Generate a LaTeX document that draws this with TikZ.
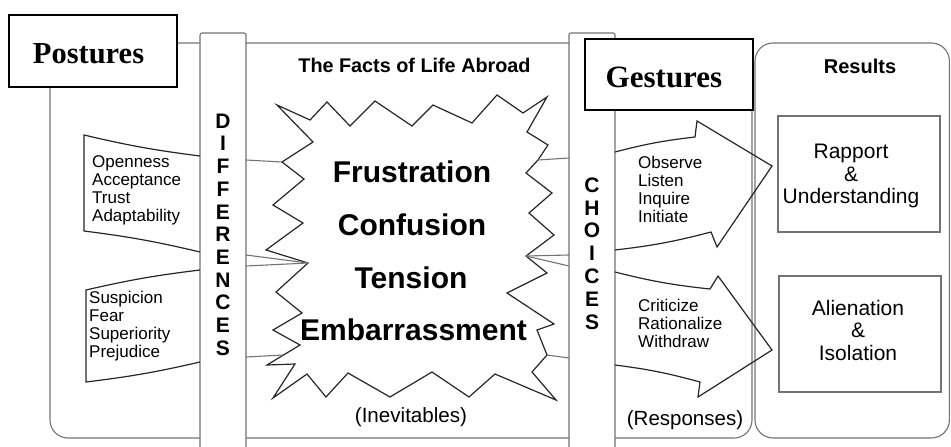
\documentclass[tikz,border=0pt]{standalone}
\usepackage{fontspec}
\setmainfont{Liberation Sans}
\newfontfamily\headfont{Liberation Serif}
\usetikzlibrary{calc}
\pgfdeclarelayer{bg}
\pgfsetlayers{bg,main}

\begin{document}
\begin{tikzpicture}[x=1pt, y=-1pt,
  greyline/.style={draw=black!55, line width=1.1pt},
  inkline/.style={draw=black!85, line width=1.2pt, line join=miter},
  colbox/.style={greyline, fill=white, rounded corners=2pt},
  hdrbox/.style={draw=black, line width=1.6pt, fill=white},
  listtxt/.style={align=left, anchor=west, inner sep=0pt, font=\fontsize{17}{18}\selectfont},
  bigword/.style={anchor=base, inner sep=0pt, font=\fontsize{30}{30}\bfseries\selectfont},
  colletter/.style={inner sep=0pt, font=\fontsize{21}{21}\bfseries\selectfont},
  restxt/.style={align=center, inner sep=0pt, font=\fontsize{21}{22.5}\selectfont}]
\useasboundingbox (0,0) rectangle (951,447);
\begin{scope}
\begin{pgfonlayer}{bg}
  \draw[greyline, rounded corners=18pt] (50,43) rectangle (752,438); %postures to responses
  \draw[greyline, rounded corners=18pt] (755,43) rectangle (949.4,438); %results
\end{pgfonlayer}
  % the two columns
  \draw[colbox] (200,447) -- (200,33) -- (246,33) -- (246,447);
  \draw[colbox] (569,447) -- (569,33) -- (615,33) -- (615,447);
  \foreach \l [count=\i] in {D,I,F,F,E,R,E,N,C,E,S}
    \node[colletter] (dif\i) at (223, 98.3+22.7*\i) {\l};
  \foreach \l [count=\i] in {C,H,O,I,C,E,S}
    \node[colletter] (cho\i) at (592, 162.2+22.8*\i) {\l};
  \coordinate (dR1) at (246,160);
  \coordinate (dR2) at (246,255);
  \coordinate (dR3) at (246,266);
  \coordinate (dR4) at (246,357);
  \coordinate (cL1) at (569,158);
  \coordinate (cL2) at (569,255);
  \coordinate (cL3) at (569,266);
  \coordinate (cL4) at (569,358);
  % header boxes
  \node[hdrbox, minimum width=168, minimum height=72, inner sep=0pt] (postbox) at (93,51) {};
  \node[anchor=base, inner sep=0pt, font=\headfont\fontsize{30.5}{30}\bfseries\selectfont] (post) at (88.5,63) {Postures};
  \node[hdrbox, minimum width=168, minimum height=71, inner sep=0pt] (gestbox) at (669,74.5) {};
  \node[anchor=base, inner sep=0pt, font=\headfont\fontsize{31}{30}\bfseries\selectfont] (gest) at (664,87.5) {Gestures};
  % facts of life
  \node[anchor=base, inner sep=0pt, font=\fontsize{19.8}{20}\bfseries\selectfont] (facts) at (414.5,72) {The Facts of Life Abroad};
  \draw[inkline, fill=white]
    (277,105) -- (313,142) -- (282,162) coordinate (sL1) -- (304,179) -- (273,205) -- (303,223)
    -- (266,250) -- (308,263) coordinate (sL2) -- (276,292) -- (302,313) -- (273,330) -- (300,345)
    -- (267,365) -- (295,364) -- (273,398) -- (307,374) -- (326,397) -- (348,373) -- (390,397)
    -- (432,372) -- (469,397) -- (495,374) -- (556,400) -- (532,372) -- (547,355) coordinate (sR4)
    -- (537,330) -- (554,324) -- (507,293) -- (547,273) -- (526,256) coordinate (sR2) -- (554,235)
    -- (529,213) -- (552,193) -- (526,173) -- (538,160) coordinate (sR1) -- (548,145) -- (527,132)
    -- (547,97) -- (523,113) -- (497,95) -- (472,123) -- (433,105) -- (412,126) -- (375,101)
    -- (350,126) -- (327,102) -- (310,120) -- cycle;
  \coordinate (sL4) at (283,355);
  \draw[greyline] (sL1) -- (dR1);
  \draw[greyline] (sL2) -- (dR2);
  \draw[greyline] (sL2) -- (dR3);
  \draw[greyline] (sL4) -- (dR4);
  \draw[greyline] (sR1) -- (cL1);
  \draw[greyline] (sR2) -- (cL2);
  \draw[greyline] (sR2) -- (cL3);
  \draw[greyline] (sR4) -- (cL4);
  \node[bigword] (frus) at (412,182) {Frustration};
  \node[bigword] (conf) at (412,235) {Confusion};
  \node[bigword] (tens) at (411,288) {Tension};
  \node[bigword] (emba) at (413.5,340) {Embarrassment};
  \node[anchor=base, inner sep=0pt, font=\fontsize{20.6}{20}\selectfont] (inev) at (411,422) {(Inevitables)};
  % postures
  \draw[inkline] (200,156) to[bend left=3] (84,135) -- (84,231) to[bend left=3] (200,252);
  \draw[inkline] (200,270) to[bend right=3] (86,290) -- (86,382) to[bend right=3] (200,362);
  \node[listtxt] (open) at (92,190.5) {Openness\\Acceptance\\Trust\\Adaptability};
  \node[listtxt] (susp) at (89,326.5) {Suspicion\\Fear\\Superiority\\Prejudice};
  % gestures
  \draw[inkline] (615,152) to[bend left=4] (695,137) -- (697,121) -- (772,166) -- (717,247) -- (711,232) to[bend left=4] (615,250);
  \draw[inkline] (615,272) to[bend right=4] (710,289) -- (718,276) -- (772,350) -- (698,397) -- (700,382) to[bend right=4] (615,365);
  \node[listtxt] (obs) at (638,189) {Observe\\Listen\\Inquire\\Initiate};
  \node[listtxt] (crit) at (638,323.5) {Criticize\\Rationalize\\Withdraw};
  \node[anchor=base, inner sep=0pt, font=\fontsize{20.5}{20}\selectfont] (resp) at (685,425) {(Responses)};
  % results
  \node[anchor=base, inner sep=0pt, font=\fontsize{20}{20}\bfseries\selectfont] (res) at (860,73) {Results};
  \draw[greyline] (778,116) rectangle (940,232);
  \draw[greyline] (779,276) rectangle (941,392);
  \node[restxt] (rapp) at (851,176) {Rapport\\\&\\Understanding};
  \node[restxt] (alie) at (858,330) {Alienation\\\&\\Isolation};
\end{scope}
\end{tikzpicture}
\end{document}
